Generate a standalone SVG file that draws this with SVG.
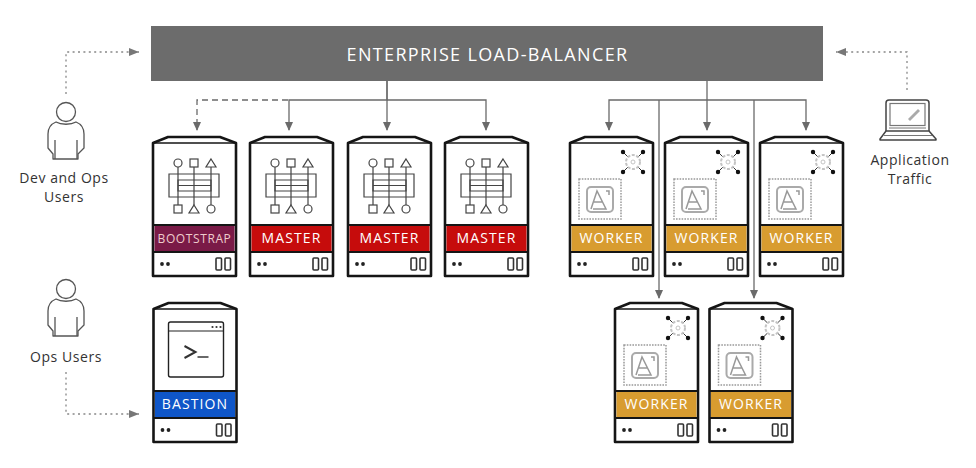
<svg xmlns="http://www.w3.org/2000/svg" width="976" height="468" viewBox="0 0 976 468">
<style>
text{font-family:"Open Sans","Noto Sans","Liberation Sans",sans-serif}
.lbl{font-size:14px;letter-spacing:1.1px;fill:#fff;text-anchor:middle}
.cap{font-size:14px;letter-spacing:.55px;fill:#333;text-anchor:middle}
.body{fill:#fff;stroke:#151515;stroke-width:2.6;stroke-linejoin:round}
.thin{fill:none;stroke:#151515;stroke-width:1.3}
.band{fill:none;stroke:#151515;stroke-width:2.2}
.icon{fill:none;stroke:#444;stroke-width:1.2}
.conn{fill:none;stroke:#6a6a6a;stroke-width:1.3}
.dash{stroke-dasharray:6 4}
.dot{fill:none;stroke:#888;stroke-width:1.3;stroke-dasharray:2 3.4}
.person{fill:none;stroke:#555;stroke-width:1.3;stroke-linejoin:round}
</style>
<defs>
<marker id="ah" markerWidth="9" markerHeight="8" refX="8" refY="4" orient="auto" markerUnits="userSpaceOnUse"><path d="M0 0L9 4L0 8Z" fill="#6a6a6a"/></marker>
<marker id="ahd" markerWidth="11" markerHeight="8" refX="10" refY="4" orient="auto" markerUnits="userSpaceOnUse"><path d="M0 0L10 4L0 8Z" fill="#777"/></marker>
<g id="server">
<path class="body" d="M0 7L15 1H67L83 7V140H0Z"/>
<path class="thin" d="M0 7H83"/>
<path class="band" d="M0 89H83M0 116H83"/>
<circle cx="9" cy="128" r="1.900" fill="#222"/><circle cx="15" cy="128" r="1.900" fill="#222"/>
<rect x="63" y="122" width="5.500" height="12" rx="1" fill="none" stroke="#333" stroke-width="1.600"/>
<rect x="72" y="122" width="5.500" height="12" rx="1" fill="none" stroke="#333" stroke-width="1.600"/>
</g>
<g id="mastericon">
<path class="icon" d="M25 31V69M41 31V69M58 31V69"/>
<path class="icon" d="M16 38H66V61H16ZM25 44H58V55H25ZM25 49.500H58"/>
<circle class="icon" cx="25" cy="27" r="4"/><rect class="icon" x="37" y="23" width="8" height="8"/><path class="icon" d="M58 23L63 31H53Z"/>
<rect class="icon" x="21" y="69" width="8" height="8"/><path class="icon" d="M41 69L46 77H36Z"/><circle class="icon" cx="58" cy="73" r="4"/>
</g>
<g id="workericon">
<path d="M53 16L73 36M73 16L53 36" stroke="#333" stroke-width="1"/>
<circle cx="53" cy="16" r="2.200" fill="#111"/><circle cx="73" cy="16" r="2.200" fill="#111"/><circle cx="53" cy="36" r="2.200" fill="#111"/><circle cx="73" cy="36" r="2.200" fill="#111"/>
<circle cx="63" cy="26" r="7" fill="#fff" stroke="#c4c4c4" stroke-width="2" stroke-dasharray="3 1.500"/>
<circle cx="63" cy="26" r="2" fill="none" stroke="#c4c4c4"/>
<rect x="9" y="43" width="42" height="40" fill="none" stroke="#999" stroke-width="1.500" stroke-dasharray="1.600 1.200"/>
<rect x="17" y="51" width="26" height="25" rx="4" fill="none" stroke="#aaa" stroke-width="2"/>
<path d="M21 73L27 55L36 73H23M24 66H33M36 55H39V59" fill="none" stroke="#999" stroke-width="1.500"/>
</g>
<g id="personicon">
<circle class="person" cx="0" cy="0" r="9.500"/>
<path class="person" d="M-10 10C-15 12-18 16-18 22V36L-13 42V47H12V42L18 36V22C18 16 15 12 10 10C5 13-5 13-10 10Z"/>
<path class="person" d="M-11 28V47M11 28V47"/>
</g>
</defs>

<g id="connectors">
<path class="conn dash" d="M288 100H197V130" marker-end="url(#ah)"/>
<path class="conn" d="M387 81V100H289V130" marker-end="url(#ah)"/>
<path class="conn" d="M387 81V130" marker-end="url(#ah)"/>
<path class="conn" d="M387 100H486V130" marker-end="url(#ah)"/>
<path class="conn" d="M707 81V130" marker-end="url(#ah)"/>
<path class="conn" d="M707 100H609V130" marker-end="url(#ah)"/>
<path class="conn" d="M707 100H806V130" marker-end="url(#ah)"/>
<path class="conn" d="M659 100V298" marker-end="url(#ah)"/>
<path class="conn" d="M754 100V298" marker-end="url(#ah)"/>
<path class="dot" d="M66 94V52H139" marker-end="url(#ahd)"/>
<path class="dot" d="M907 90V52H836" marker-end="url(#ahd)"/>
<path class="dot" d="M66 372V414H139" marker-end="url(#ahd)"/>
</g>

<g id="load-balancer">
<rect x="151" y="26" width="672" height="55" fill="#6c6c6c"/>
<text x="487.500" y="60.500" font-size="18" letter-spacing="1.350" fill="#fff" text-anchor="middle">ENTERPRISE LOAD-BALANCER</text>
</g>

<g id="dev-ops-users">
<use href="#personicon" x="66" y="112"/>
<text class="cap" x="64" y="183">Dev and Ops</text>
<text class="cap" x="64" y="202">Users</text>
</g>
<g id="ops-users">
<use href="#personicon" x="66" y="289"/>
<text class="cap" x="66" y="362">Ops Users</text>
</g>
<g id="application-traffic">
<path d="M886 131V103Q886 100 889 100H926Q929 100 929 103V131" fill="none" stroke="#444" stroke-width="1.500"/>
<rect x="890" y="103.500" width="35" height="22" fill="none" stroke="#777" stroke-width="1.200"/>
<path d="M909 120L919 110" stroke="#aaa" stroke-width="2.800"/>
<path d="M886 131H929L936 139V140H880V139Z" fill="none" stroke="#444" stroke-width="1.500" stroke-linejoin="round"/>
<path d="M884 135.500H932M889 128H926" stroke="#777"/>
<text class="cap" x="910" y="165">Application</text>
<text class="cap" x="910" y="184">Traffic</text>
</g>

<g id="bootstrap" transform="translate(153 136)">
<use href="#server"/><rect x="1.500" y="90" width="80" height="25" fill="#7a1a47"/>
<use href="#mastericon"/>
<text class="lbl" x="41.500" y="107" style="font-size:12px;letter-spacing:.6px;fill:#ecc">BOOTSTRAP</text>
</g>
<g id="master-1" transform="translate(250 136)">
<use href="#server"/><rect x="1.500" y="90" width="80" height="25" fill="#c60c0c"/>
<use href="#mastericon"/><text class="lbl" x="41.500" y="107">MASTER</text>
</g>
<g id="master-2" transform="translate(348 136)">
<use href="#server"/><rect x="1.500" y="90" width="80" height="25" fill="#c60c0c"/>
<use href="#mastericon"/><text class="lbl" x="41.500" y="107">MASTER</text>
</g>
<g id="master-3" transform="translate(445 136)">
<use href="#server"/><rect x="1.500" y="90" width="80" height="25" fill="#c60c0c"/>
<use href="#mastericon"/><text class="lbl" x="41.500" y="107">MASTER</text>
</g>
<g id="worker-1" transform="translate(570 136)">
<use href="#server"/><rect x="1.500" y="90" width="80" height="25" fill="#d89c30"/>
<use href="#workericon"/><text class="lbl" x="41.500" y="107">WORKER</text>
</g>
<g id="worker-2" transform="translate(665 136)">
<use href="#server"/><rect x="1.500" y="90" width="80" height="25" fill="#d89c30"/>
<use href="#workericon"/><text class="lbl" x="41.500" y="107">WORKER</text>
</g>
<g id="worker-3" transform="translate(760 136)">
<use href="#server"/><rect x="1.500" y="90" width="80" height="25" fill="#d89c30"/>
<use href="#workericon"/><text class="lbl" x="41.500" y="107">WORKER</text>
</g>
<g id="worker-4" transform="translate(615 302)">
<use href="#server"/><rect x="1.500" y="90" width="80" height="25" fill="#d89c30"/>
<use href="#workericon"/><text class="lbl" x="41.500" y="107">WORKER</text>
</g>
<g id="worker-5" transform="translate(709.500 302)">
<use href="#server"/><rect x="1.500" y="90" width="80" height="25" fill="#d89c30"/>
<use href="#workericon"/><text class="lbl" x="41.500" y="107">WORKER</text>
</g>
<g id="bastion" transform="translate(153.500 302)">
<use href="#server"/><rect x="1.500" y="90" width="80" height="25" fill="#0f56c8"/>
<rect x="15" y="20" width="55" height="55" rx="2" fill="none" stroke="#222" stroke-width="1.400"/>
<path d="M15 29H70" stroke="#222" stroke-width="1.200"/>
<circle cx="59" cy="25" r="1.100" fill="#333"/><circle cx="63" cy="25" r="1.100" fill="#333"/><circle cx="67" cy="25" r="1.100" fill="#333"/>
<path d="M31 44L42 50L31 56" fill="none" stroke="#333" stroke-width="2"/><path d="M44 55H55" stroke="#444" stroke-width="1.600"/>
<text class="lbl" x="41.500" y="107">BASTION</text>
</g>
</svg>
